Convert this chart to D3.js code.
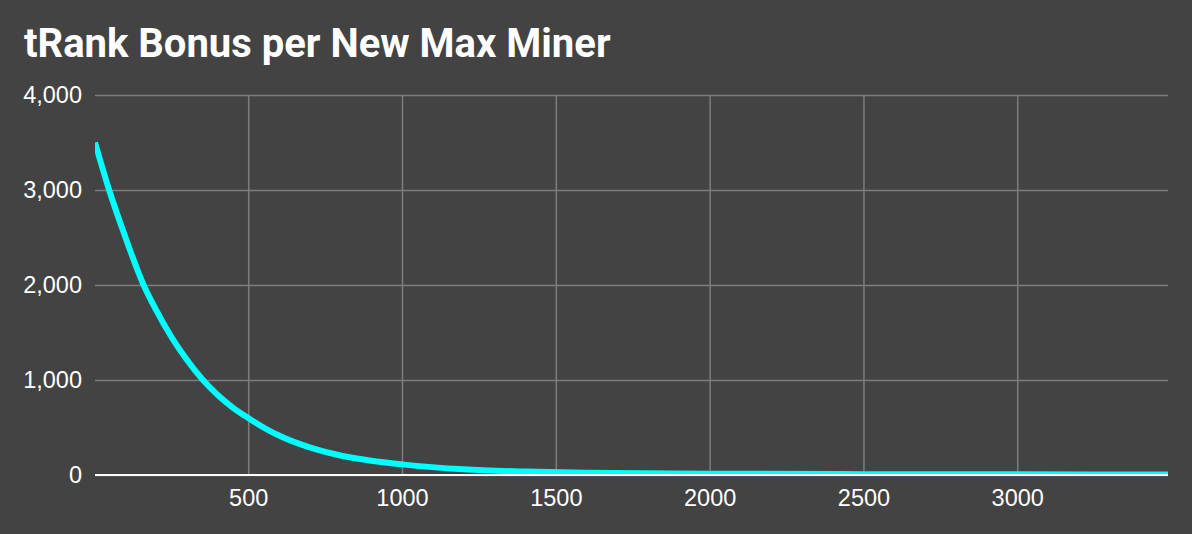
<!DOCTYPE html>
<html>
    <head>
        <meta charset="utf-8">
        <style>
        body {
            margin: 0;
            background-color: #434343;
        }

        svg {
            display: block;
        }

        .headline {
            font-family: "Roboto", sans-serif;
            font-weight: bold;
            fill: white;
        }

        .tick text {
            font-family: "Liberation Sans", Arial, sans-serif;
            fill: white;
        }

        .grid .tick line {
            stroke: #7d7d7d;
            stroke-width: 1.5;
        }

        .domain {
            display: none;
        }
        </style>
    </head>
    <body>
        <div id="plot"></div>
        <script src="https://d3js.org/d3.v7.min.js"></script>
        <script>

            // miners (x) and tRank bonus (y)
            let miners = [2, 48, 100, 160, 200, 250, 300, 353, 400, 450, 500, 600, 700, 800, 900, 1000, 1200, 1400, 1600, 2000, 2500, 3000, 3490]
            let bonus = [3500, 3000, 2510, 2000, 1740, 1455, 1215, 1000, 845, 710, 600, 415, 290, 205, 150, 112, 60, 36, 24, 14, 9, 7, 6]

            let xTicks = [500, 1000, 1500, 2000, 2500, 3000]
            let yTicks = [0, 1000, 2000, 3000, 4000]

            let data = miners.map((m, i) => ({x: m, y: bonus[i]}))

            let width = 1192
            let height = 534
            let margin = {top: 95, right: 24, bottom: 59, left: 95}

            let svg = d3.select("#plot")
                .append("svg")
                .attr("width", width)
                .attr("height", height)

            svg.append("text")
                .attr("class", "headline")
                .attr("x", 24)
                .attr("y", 57)
                .style("font-size", "40px")
                .text("tRank Bonus per New Max Miner")

            let x = d3.scaleLinear()
                .domain(d3.extent(miners))
                .range([margin.left, width - margin.right])

            let y = d3.scaleLinear()
                .domain([0, 4000])
                .range([height - margin.bottom, margin.top])

            // clip so the line stays inside the plot area
            svg.append("clipPath")
                .attr("id", "clip")
                .append("rect")
                .attr("x", margin.left)
                .attr("y", margin.top)
                .attr("width", width - margin.left - margin.right)
                .attr("height", height - margin.top - margin.bottom)

            // horizontal grid + y labels
            svg.append("g")
                .attr("class", "grid y")
                .attr("transform", `translate(${margin.left}, 0)`)
                .call(d3.axisLeft(y)
                    .tickValues(yTicks)
                    .tickSize(-(width - margin.left - margin.right))
                    .tickPadding(13)
                    .tickFormat(d3.format(",")))
                .selectAll("text")
                .style("font-size", "23.5px")
                .attr("dy", "0.3em")

            // vertical grid + x labels
            svg.append("g")
                .attr("class", "grid x")
                .attr("transform", `translate(0, ${height - margin.bottom})`)
                .call(d3.axisBottom(x)
                    .tickValues(xTicks)
                    .tickSize(-(height - margin.top - margin.bottom))
                    .tickPadding(14)
                    .tickFormat(d3.format("d")))
                .selectAll("text")
                .style("font-size", "23.5px")

            let line = d3.line()
                .x(d => x(d.x))
                .y(d => y(d.y))
                .curve(d3.curveMonotoneX)

            svg.append("path")
                .datum(data)
                .attr("clip-path", "url(#clip)")
                .attr("fill", "none")
                .attr("stroke", "#00ffff")
                .attr("stroke-width", 6)
                .attr("d", line)

            // zero baseline
            svg.append("line")
                .attr("x1", margin.left)
                .attr("x2", width - margin.right)
                .attr("y1", y(0))
                .attr("y2", y(0))
                .attr("stroke", "white")
                .attr("stroke-width", 2)

        </script>
    </body>
</html>
